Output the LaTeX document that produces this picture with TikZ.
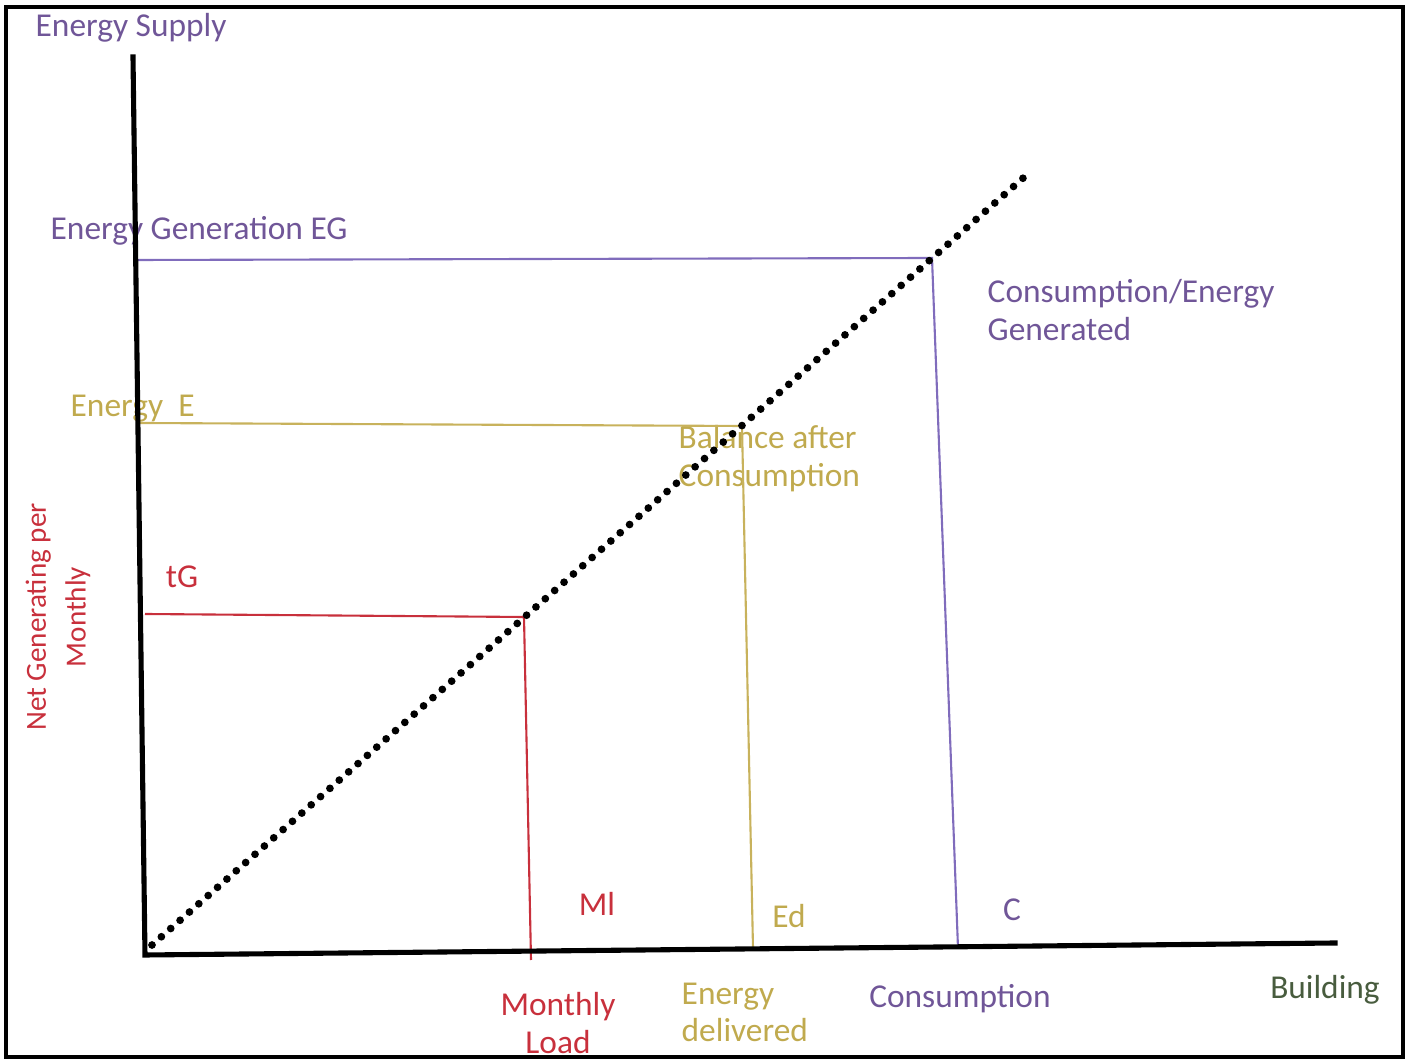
\documentclass[tikz,border=0pt]{standalone}
\usepackage{fontspec}
\usepackage{tikz}
\setmainfont{Carlito}

\definecolor{supplypurple}{RGB}{112,86,152}
\definecolor{genline}{RGB}{128,108,188}
\definecolor{balolive}{RGB}{192,170,78}
\definecolor{balline}{RGB}{200,178,92}
\definecolor{loadred}{RGB}{200,48,60}
\definecolor{bldgreen}{RGB}{72,92,62}

\begin{document}
\begin{tikzpicture}
	\tikzstyle{lbl}=[inner sep=0pt, font=\fontsize{9.5}{10.7}\selectfont]
	\tikzstyle{axis}=[line width=1.45pt, line cap=rect]
	\tikzstyle{guide}=[line width=0.6pt]
	\tikzstyle{dots}=[line width=2.2pt, line cap=round, dash pattern=on 0pt off 3.55pt]

	\useasboundingbox (0,0) rectangle (14.08,10.59);
	\draw[line width=0.9pt] (0.06,0.02) rectangle (14.03,10.52);

	% axes corners and line ends
	\coordinate (o) at (1.45,1.04);
	\coordinate (ytop) at (1.33,10.02);
	\coordinate (xend) at (13.35,1.16);
	\coordinate (dstart) at (1.52,1.14);
	\coordinate (dend) at (10.30,8.87);

	\coordinate (egy) at (1.35,7.99);
	\coordinate (egp) at (9.32,8.01);
	\coordinate (egb) at (9.58,1.11);

	\coordinate (ey) at (1.40,6.36);
	\coordinate (ep) at (7.42,6.33);
	\coordinate (eb) at (7.53,1.11);

	\coordinate (tgy) at (1.45,4.45);
	\coordinate (tgp) at (5.24,4.42);
	\coordinate (tgb) at (5.31,0.99);

	% labels
	\node[lbl, text=supplypurple, anchor=west](supply) at (0.35,10.31){Energy Supply};
	\node[lbl, text=supplypurple, anchor=west](eg) at (0.50,8.28){Energy Generation EG};
	\node[lbl, text=supplypurple, anchor=north west, align=left](cons) at (9.87,7.80){Consumption/Energy\\Generated};
	\node[lbl, text=balolive, anchor=west](e) at (0.70,6.50){Energy\ \ E};
	\node[lbl, text=balolive, anchor=north west, align=left](bal) at (6.78,6.34){Balance after\\Consumption};
	\node[lbl, text=loadred](tg) at (1.82,4.82){tG};
	\node[lbl, text=loadred, rotate=90, align=center, font=\fontsize{8.3}{11.3}\selectfont](net) at (0.58,4.42){Net Generating per\\Monthly};
	\node[lbl, text=loadred](ml) at (5.97,1.55){Ml};
	\node[lbl, text=balolive](ed) at (7.89,1.43){Ed};
	\node[lbl, text=supplypurple](c) at (10.12,1.49){C};
	\node[lbl, text=loadred, align=center, anchor=north](load) at (5.58,0.67){Monthly\\Load};
	\node[lbl, text=balolive, align=left, anchor=north west](deliv) at (6.81,0.77){Energy\\delivered};
	\node[lbl, text=supplypurple](consum) at (9.60,0.60){Consumption};
	\node[lbl, text=bldgreen](bld) at (13.25,0.69){Building};

	% guide lines from the axes to the diagonal
	\draw[guide, genline] (egy) -- (egp) -- (egb);
	\draw[guide, balline] (ey) -- (ep) -- (eb);
	\draw[guide, loadred] (tgy) -- (tgp) -- (tgb);

	% axes
	\draw[axis] (ytop) -- (o) -- (xend);

	% diagonal
	\draw[dots] (dstart) -- (dend);
\end{tikzpicture}
\end{document}
